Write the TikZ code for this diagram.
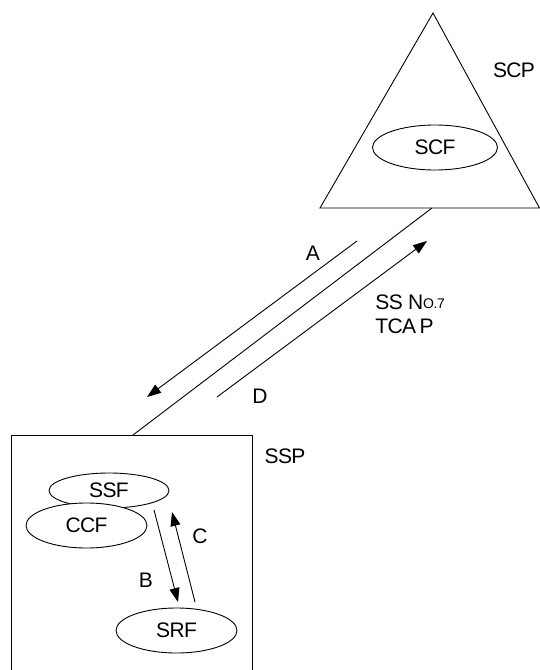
\documentclass[tikz,border=0pt]{standalone}
\usepackage{fontspec}
\setmainfont[LetterSpace=-3]{Liberation Sans}
\usetikzlibrary{arrows.meta,shapes.geometric}
\begin{document}
\begin{tikzpicture}[x=1pt,y=-1pt, line width=0.9pt,
  fn/.style={draw, ellipse, fill=white, inner sep=0pt, minimum width=121pt, minimum height=45pt, font=\fontsize{21}{24}\selectfont},
  lbl/.style={inner sep=0pt, font=\fontsize{21}{24}\selectfont},
  arr/.style={-{Triangle[length=14pt,width=10pt]}}]
\useasboundingbox (0,0) rectangle (540,670);
% SCP triangle
\coordinate (apex) at (433,13);
\coordinate (tl) at (320,208);
\coordinate (tr) at (539.5,208);
\draw (apex) -- (tl) -- (tr) -- cycle;
\node[fn, minimum width=125pt] (scf) at (435,147.5) {SCF};
\node[lbl] (scp) at (514,70) {SCP};
% SSP box
\coordinate (bl) at (11,672);
\coordinate (btl) at (11,435);
\coordinate (btr) at (252,435);
\coordinate (br) at (252,672);
\draw (bl) -- (btl) -- (btr) -- (br);
\node[lbl] (ssp) at (285,456) {SSP};
\node[fn, minimum width=120pt, minimum height=35pt] (ssf) at (109,490.5) {SSF};
\node[fn] (ccf) at (86.5,525.5) {CCF};
\node[fn] (srf) at (176.5,630.5) {SRF};
% link
\coordinate (linkb) at (133,435);
\coordinate (linkt) at (432,208);
\draw (linkb) -- (linkt);
\coordinate (a1) at (357,241);
\coordinate (a2) at (147,397);
\draw[arr] (a1) -- (a2);
\coordinate (d1) at (217,397);
\coordinate (d2) at (427,241);
\draw[arr] (d1) -- (d2);
\node[lbl] (la) at (313,253) {A};
\node[lbl] (ld) at (260,396) {D};
\node[lbl, align=left, anchor=north west] (ss7) at (375,294) {SS N\raisebox{1pt}{\fontsize{14}{14}\selectfont O.7}\\TCA\,P};
% internal
\coordinate (b1) at (154,510);
\coordinate (b2) at (178,602);
\draw[arr] (b1) -- (b2);
\coordinate (c1) at (195,602);
\coordinate (c2) at (172,512);
\draw[arr] (c1) -- (c2);
\node[lbl] (lb) at (146,580) {B};
\node[lbl] (lc) at (200,536) {C};
\end{tikzpicture}
\end{document}
